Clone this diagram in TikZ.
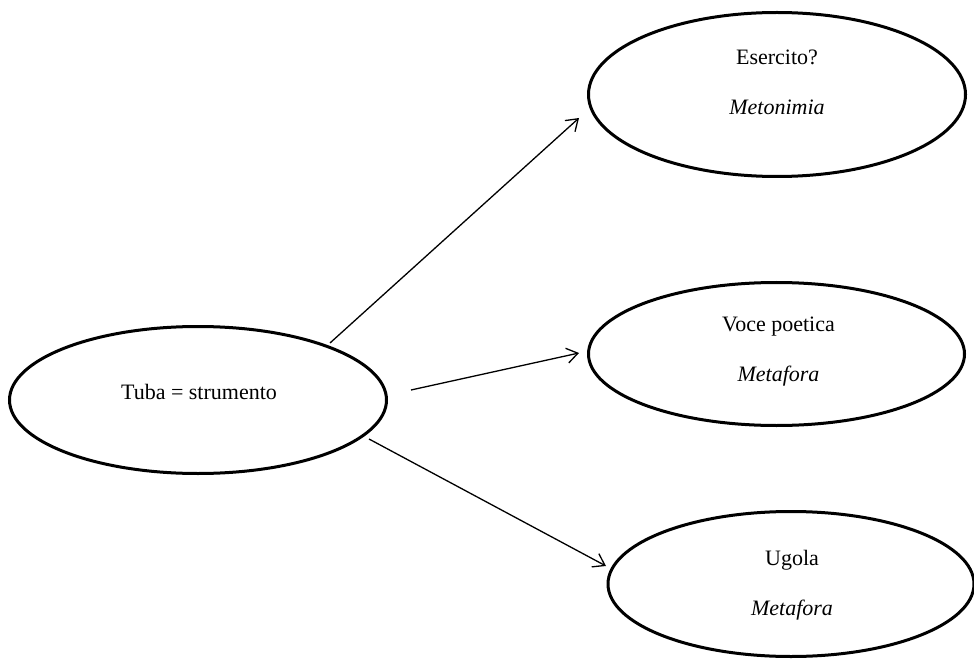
\documentclass[tikz,border=0pt]{standalone}
\usepackage{fontspec}
\setmainfont{Liberation Serif}
\usetikzlibrary{shapes.geometric,arrows.meta,calc}
\begin{document}
\begin{tikzpicture}[x=1pt,y=-1pt,
  bubble/.style={ellipse,draw=black,line width=3pt,inner sep=0pt,outer sep=0pt},
  label text/.style={font=\fontsize{22}{50}\selectfont,align=center,inner sep=0pt},
  link/.style={draw=black,line width=1.3pt,-{Straight Barb[length=11pt,width=15pt,line width=1.3pt]}}]
  \useasboundingbox (0,0) rectangle (974,660);

  % ellipses
  \node[bubble,minimum width=377pt,minimum height=147pt] (tuba) at (198,400) {};
  \node[bubble,minimum width=377pt,minimum height=164pt] (eserc) at (777,94.5) {};
  \node[bubble,minimum width=376pt,minimum height=143pt] (voce) at (776.5,354) {};
  \node[bubble,minimum width=366pt,minimum height=145pt] (ugola) at (791,584) {};

  % texts
  \node[label text] (tuba-t) at (199,392) {Tuba = strumento};
  \node[label text] (eserc-t) at (777,82.5) {Esercito?\\\textit{Metonimia}};
  \node[label text] (voce-t) at (778.5,351.5) {Voce poetica\\\textit{Metafora}};
  \node[label text] (ugola-t) at (792,585) {Ugola\\\textit{Metafora}};

  % connector ends
  \coordinate (s1) at ($(tuba.center)+(132,-57)$);
  \coordinate (e1) at ($(eserc.center)+(-198,23.5)$);
  \coordinate (s2) at ($(tuba.center)+(213,-10)$);
  \coordinate (e2) at ($(voce.center)+(-197.5,-1)$);
  \coordinate (s3) at ($(tuba.center)+(171,39)$);
  \coordinate (e3) at ($(ugola.center)+(-185,-18)$);

  % arrows
  \draw[link] (s1) -- (e1);
  \draw[link] (s2) -- (e2);
  \draw[link] (s3) -- (e3);
\end{tikzpicture}
\end{document}
